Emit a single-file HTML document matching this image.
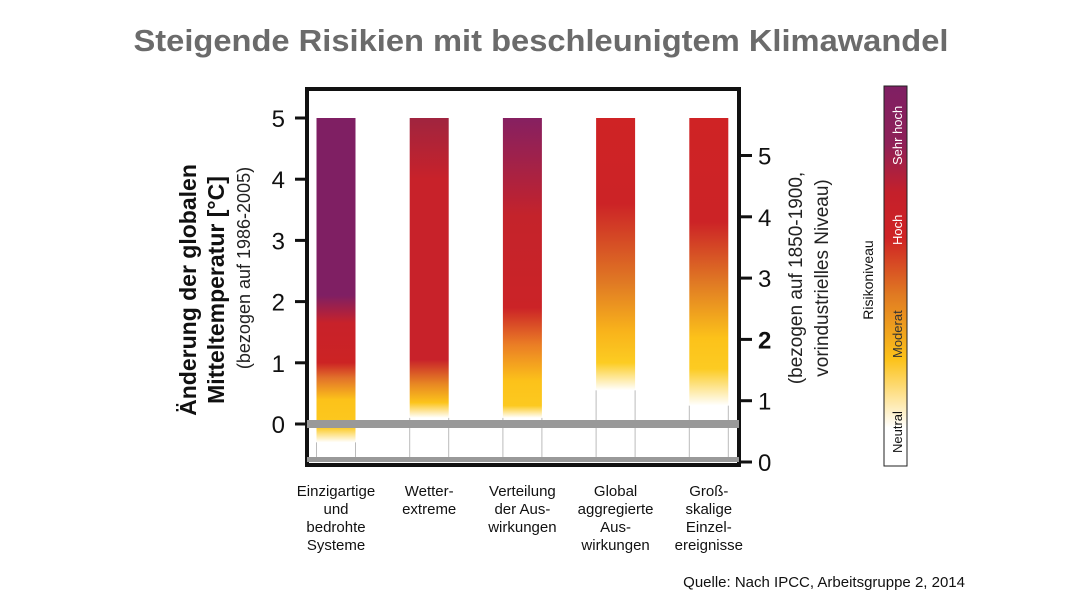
<!DOCTYPE html>
<html><head><meta charset="utf-8"><style>
body{margin:0;background:#fff;width:1083px;height:605px;overflow:hidden;font-family:"Liberation Sans",Arial,sans-serif}
</style></head><body>
<svg id="chart" width="1083" height="605" xmlns="http://www.w3.org/2000/svg" font-family="Liberation Sans, Arial, sans-serif">
<text x="541" y="51" text-anchor="middle" font-size="31" font-weight="bold" fill="#6b6b6b" textLength="815" lengthAdjust="spacingAndGlyphs">Steigende Risikien mit beschleunigtem Klimawandel</text>
<g id="bars"></g>
<rect x="307" y="89" width="432" height="376" fill="none" stroke="#111" stroke-width="4"/>
<g id="ticks"></g>
<g>
<text transform="translate(196,290) rotate(-90)" text-anchor="middle" font-size="23" font-weight="bold" fill="#111">Änderung der globalen</text>
<text transform="translate(224,290) rotate(-90)" text-anchor="middle" font-size="23" font-weight="bold" fill="#111">Mitteltemperatur [°C]</text>
<text transform="translate(250,268) rotate(-90)" text-anchor="middle" font-size="18" fill="#222">(bezogen auf 1986-2005)</text>
</g>
<g>
<text transform="translate(802,278) rotate(-90)" text-anchor="middle" font-size="19" fill="#222">(bezogen auf 1850-1900,</text>
<text transform="translate(828,278) rotate(-90)" text-anchor="middle" font-size="19" fill="#222">vorindustrielles Niveau)</text>
</g>
<g id="cats" font-size="15" fill="#111" text-anchor="middle"></g>
<defs><linearGradient id="cbar" x1="0" y1="1" x2="0" y2="0">
<stop offset="0" stop-color="#fff"/><stop offset="0.1" stop-color="#fff"/><stop offset="0.28" stop-color="#fcc21a"/><stop offset="0.45" stop-color="#e07a22"/><stop offset="0.6" stop-color="#cf2325"/><stop offset="0.72" stop-color="#c4202b"/><stop offset="0.85" stop-color="#8e2058"/><stop offset="1" stop-color="#7f1f63"/></linearGradient></defs>
<g>
<rect x="884" y="86" width="23" height="380" fill="url(#cbar)" stroke="#222" stroke-width="1"/>
<text transform="translate(902,453) rotate(-90)" font-size="13" fill="#111">Neutral</text>
<text transform="translate(902,358) rotate(-90)" font-size="13" fill="#333">Moderat</text>
<text transform="translate(902,245) rotate(-90)" font-size="13" fill="#fff">Hoch</text>
<text transform="translate(902,165) rotate(-90)" font-size="13" fill="#fff">Sehr hoch</text>
<text transform="translate(873,280) rotate(-90)" text-anchor="middle" font-size="14" fill="#111">Risikoniveau</text>
</g>
<text x="965" y="587" text-anchor="end" font-size="15" fill="#111">Quelle: Nach IPCC, Arbeitsgruppe 2, 2014</text>
</svg>
<script>
const categories=[["Einzigartige","und","bedrohte","Systeme"],["Wetter-","extreme"],["Verteilung","der Aus-","wirkungen"],["Global","aggregierte","Aus-","wirkungen"],["Groß-","skalige","Einzel-","ereignisse"]];
const barTop=[5,5,5,5,5];
const stops1=[[-0.3,"#ffffff"],[-0.05,"#fcc91f"],[0.4,"#fcc21a"],[0.75,"#e2722a"],[1.0,"#cc2324"],[1.65,"#c8222a"],[2.1,"#7f1f63"],[5,"#7f1f63"]];
const stops2=[[0.1,"#ffffff"],[0.35,"#fcc41b"],[0.65,"#e88823"],[1.05,"#c8222a"],[4.0,"#c8222a"],[5,"#a0243f"]];
const stops3=[[0.1,"#ffffff"],[0.3,"#fcc91f"],[0.7,"#fcc21a"],[1.3,"#ea7d25"],[1.9,"#cb2327"],[3.4,"#c4232b"],[5,"#862061"]];
const stops4=[[0.55,"#ffffff"],[1.0,"#fccc22"],[1.5,"#f9b41b"],[2.3,"#e07a24"],[3.6,"#cc2326"],[5,"#cf2325"]];
const stops5=[[0.3,"#ffffff"],[0.9,"#fccb22"],[1.4,"#fcc21a"],[2.3,"#e07a24"],[3.3,"#cc2326"],[5,"#cf2325"]];
const allStops=[stops1,stops2,stops3,stops4,stops5];
const leftTicks=[0,1,2,3,4,5];
const rightTicks=[0,1,2,3,4,5];
const NS="http://www.w3.org/2000/svg";
const y=v=>424-v*61.2;
const yr=v=>462-v*61.3;
const xc=i=>336+i*93.2;
const bw=39, bottomV=-0.6;
const svg=document.getElementById('chart'),bars=document.getElementById('bars'),ticks=document.getElementById('ticks'),cats=document.getElementById('cats');
const defs=svg.querySelector('defs');
function mk(t,a,p){const e=document.createElementNS(NS,t);for(const k in a)e.setAttribute(k,a[k]);(p||svg).appendChild(e);return e;}
allStops.forEach((st,i)=>{
  const hi=barTop[i];
  const g=mk('linearGradient',{id:'g'+i,x1:0,y1:y(bottomV),x2:0,y2:y(hi),gradientUnits:'userSpaceOnUse'},defs);
  mk('stop',{offset:0,'stop-color':'#fff'},g);
  st.forEach(s=>mk('stop',{offset:Math.max(0,Math.min(1,(s[0]-bottomV)/(hi-bottomV))),'stop-color':s[1]},g));
  const x0=xc(i)-bw/2;
  const r=mk('rect',{x:x0,y:y(hi),width:bw,height:y(bottomV)-y(hi),fill:'url(#g'+i+')'},bars);
  
  
  [x0,x0+bw].forEach(xx=>{const l=mk('line',{x1:xx,x2:xx,y1:y(st[0][0]),y2:462,stroke:'#bbb','stroke-width':1},bars);
    
    });
  categories[i].forEach((t,j)=>{const tx=mk('text',{x:xc(i),y:496+j*18},cats);tx.textContent=t;
    
    });
});
const z=mk('rect',{x:307,y:y(0)-4,width:432,height:8,fill:'#999'},ticks);


const b=mk('rect',{x:307,y:457,width:432,height:5,fill:'#999'},ticks);


leftTicks.forEach(v=>{
  const l=mk('line',{x1:295,x2:307,y1:y(v),y2:y(v),stroke:'#111','stroke-width':3},ticks);
  
  
  const t=mk('text',{x:285,y:y(v)+9,'text-anchor':'end','font-size':24,fill:'#111'},ticks);t.textContent=v;
  
  
});
rightTicks.forEach(v=>{
  const l=mk('line',{x1:739,x2:752,y1:yr(v),y2:yr(v),stroke:'#111','stroke-width':3},ticks);
  
  
  const t=mk('text',{x:758,y:yr(v)+9,'font-size':24,fill:'#111','font-weight':v===2?'bold':'normal'},ticks);t.textContent=v;
  
  
});
</script>
</body></html>
